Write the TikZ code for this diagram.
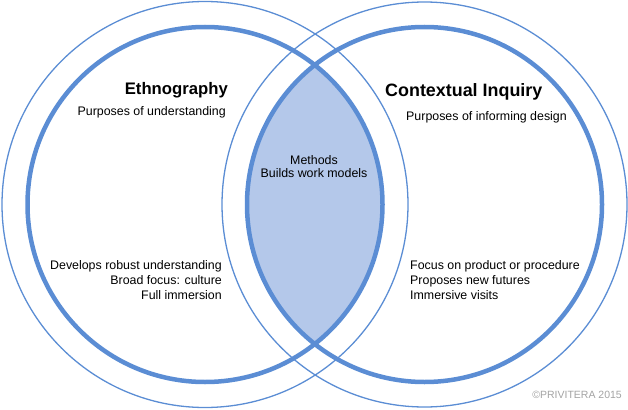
\documentclass[tikz,border=0pt]{standalone}
\usepackage{fontspec}
\setmainfont{Liberation Sans}
\definecolor{ringblue}{HTML}{5B8DD4}
\definecolor{lensfill}{HTML}{B4C8EA}
\definecolor{copygray}{HTML}{A3A3A3}
\begin{document}
\begin{tikzpicture}[x=1pt,y=-1pt,
  thickring/.style={draw=ringblue,line width=4.5pt},
  thinring/.style={draw=ringblue,line width=1.3pt},
  title/.style={font=\fontsize{17}{20}\selectfont\bfseries,inner sep=0pt},
  body/.style={font=\fontsize{12.4}{15}\selectfont,inner sep=0pt},
  copy/.style={font=\fontsize{10.5}{13}\selectfont,text=copygray,inner sep=0pt}]
\useasboundingbox (0,0) rectangle (628,409);
% lens
\begin{scope}
  \clip (205,204.5) circle[radius=177.5];
  \fill[lensfill] (424.5,204.5) circle[radius=177.5];
\end{scope}
% rings
\draw[thinring] (205,204.5) circle[radius=203];
\draw[thinring] (424.5,204.5) circle[radius=202.5];
\draw[thickring] (205,204.5) circle[radius=177.5];
\draw[thickring] (424.5,204.5) circle[radius=177.5];
% texts
\node[title,font=\fontsize{16.7}{20}\selectfont\bfseries,anchor=base east] (eth) at (228,95) {Ethnography};
\node[body,anchor=base east] (ethp) at (226,115) {Purposes of understanding};
\node[title,font=\fontsize{17.9}{20}\selectfont\bfseries,anchor=base west] (ci) at (385,96) {Contextual Inquiry};
\node[body,anchor=base west] (cip) at (406,120) {Purposes of informing design};
\node[body,anchor=base] (m1) at (314,164) {Methods};
\node[body,anchor=base] (m2) at (314,177) {Builds work models};
\node[body,anchor=base east] (l1) at (222,269) {Develops robust understanding};
\node[body,anchor=base east] (l2) at (222,284) {Broad focus: culture};
\node[body,anchor=base east] (l3) at (222,299) {Full immersion};
\node[body,anchor=base west] (r1) at (410,269) {Focus on product or procedure};
\node[body,anchor=base west] (r2) at (410,284) {Proposes new futures};
\node[body,anchor=base west] (r3) at (410,299) {Immersive visits};
\node[copy,anchor=base east] (cpy) at (622,398) {©PRIVITERA 2015};
\end{tikzpicture}
\end{document}
